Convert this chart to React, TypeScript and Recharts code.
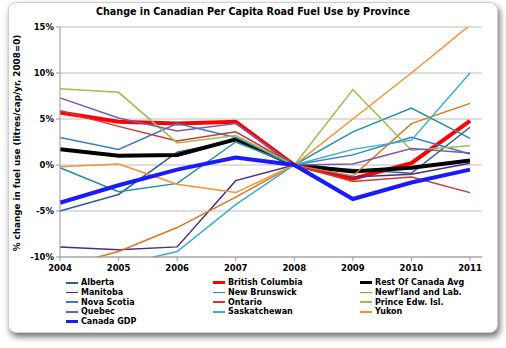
import { LineChart, Line, XAxis, YAxis, CartesianGrid } from 'recharts';

const years = ['2004', '2005', '2006', '2007', '2008', '2009', '2010', '2011'];
const yTicks = [-10, -5, 0, 5, 10, 15];

const alberta = [-5.0, -3.2, 1.4, 2.7, 0, -0.5, -0.9, 4.1];
const britishColumbia = [5.7, 4.7, 4.5, 4.7, 0, -1.5, 0.2, 4.8];
const restOfCanada = [1.7, 1.0, 1.1, 2.8, 0, -0.7, -0.3, 0.5];
const manitoba = [-8.9, -9.2, -8.9, -1.7, 0, -1.3, -1.0, 0.2];
const newBrunswick = [-0.3, -2.9, -2.0, 2.5, 0, 3.6, 6.2, 2.9];
const newfoundland = [-11.1, -9.4, -6.8, -3.5, 0, -1.2, 4.5, 6.7];
const novaScotia = [3.0, 1.7, 4.5, 3.0, 0, 1.1, 3.0, 1.2];
const ontario = [5.9, 4.2, 2.6, 3.6, 0, -1.8, -1.3, -3.0];
const princeEdward = [8.3, 7.9, 2.4, 3.2, 0, 8.2, 1.6, 2.1];
const quebec = [7.3, 5.1, 3.7, 4.5, 0, 0.1, 1.8, 1.3];
const saskatchewan = [-12.0, -10.9, -9.4, -4.3, 0, 1.7, 2.7, 10.0];
const yukon = [-0.2, 0.1, -2.1, -3.0, 0, 5.0, 10.0, 15.2];
const canadaGdp = [-4.1, -2.2, -0.5, 0.8, 0, -3.7, -1.9, -0.5];

const series = [
  { name: 'Alberta', values: alberta, color: '#2f5f98', width: 1.5 },
  { name: 'British Columbia', values: britishColumbia, color: '#ff0000', width: 4 },
  { name: 'Rest Of Canada Avg', values: restOfCanada, color: '#000000', width: 4 },
  { name: 'Manitoba', values: manitoba, color: '#4a2f80', width: 1.5 },
  { name: 'New Brunswick', values: newBrunswick, color: '#21919b', width: 1.5 },
  { name: "Newf'land and Lab.", values: newfoundland, color: '#d9781f', width: 1.5 },
  { name: 'Nova Scotia', values: novaScotia, color: '#3a7ccc', width: 1.5 },
  { name: 'Ontario', values: ontario, color: '#d23636', width: 1.5 },
  { name: 'Prince Edw. Isl.', values: princeEdward, color: '#97c04f', width: 1.5 },
  { name: 'Quebec', values: quebec, color: '#7a58ad', width: 1.5 },
  { name: 'Saskatchewan', values: saskatchewan, color: '#36b1cc', width: 1.5 },
  { name: 'Yukon', values: yukon, color: '#f7922e', width: 1.5 },
  { name: 'Canada GDP', values: canadaGdp, color: '#1a1aff', width: 4 },
];

const data = years.map((year, i) => {
  const row: Record<string, string | number> = { year };
  series.forEach((s) => {
    row[s.name] = s.values[i];
  });
  return row;
});

const font = "'DejaVu Sans', Verdana, sans-serif";
const tickStyle = { fill: '#000', fontSize: 8.5, fontWeight: 'bold' as const, fontFamily: font };

export default function App() {
  return (
    <div
      style={{
        position: 'absolute',
        left: 0,
        top: 0,
        width: 506,
        height: 348,
        background: '#fff',
        fontFamily: font,
        overflow: 'hidden',
      }}
    >
      {/* card with drop shadow */}
      <div
        style={{
          position: 'absolute',
          left: 8,
          top: 2,
          width: 488,
          height: 329,
          background: '#fff',
          border: '1px solid #cfcfcf',
          borderRadius: 8,
          boxShadow: '2px 4px 6px rgba(0,0,0,0.55)',
        }}
      />
      <div
        style={{
          position: 'absolute',
          left: 0,
          top: 6,
          width: 506,
          textAlign: 'center',
          fontSize: 9.6,
          fontWeight: 'bold',
        }}
      >
        Change in Canadian Per Capita Road Fuel Use by Province
      </div>
      <div
        style={{
          position: 'absolute',
          left: 17,
          top: 143,
          transform: 'translate(-50%, -50%) rotate(-90deg)',
          whiteSpace: 'nowrap',
          fontSize: 8.8,
          fontWeight: 'bold',
        }}
      >
        % change in fuel use (litres/cap/yr, 2008=0)
      </div>
      <div style={{ position: 'absolute', left: 0, top: 0 }}>
        <LineChart width={506} height={280} data={data} margin={{ top: 27, right: 24, left: 0, bottom: 0 }}>
          <CartesianGrid vertical={false} stroke="#bdbdbd" strokeWidth={1} />
          <XAxis
            dataKey="year"
            height={23}
            padding={{ left: 0, right: 12 }}
            tick={tickStyle}
            tickLine={{ stroke: '#999' }}
            tickSize={4}
            tickMargin={4}
            axisLine={{ stroke: '#999' }}
            interval={0}
          />
          <YAxis
            width={60}
            domain={[-10, 15]}
            ticks={yTicks}
            allowDataOverflow
            tickFormatter={(v: number) => `${v}%`}
            tick={tickStyle}
            tickLine={{ stroke: '#999' }}
            tickSize={4}
            axisLine={{ stroke: '#999' }}
          />
          {series.map((s) => (
            <Line
              key={s.name}
              type="linear"
              dataKey={s.name}
              stroke={s.color}
              strokeWidth={s.width}
              dot={false}
              isAnimationActive={false}
            />
          ))}
        </LineChart>
      </div>
      <div
        style={{
          position: 'absolute',
          left: 66,
          top: 278,
          display: 'grid',
          gridTemplateColumns: '147px 147px 147px',
          fontSize: 8,
          fontWeight: 'bold',
        }}
      >
        {series.map((s) => (
          <div key={s.name} style={{ display: 'flex', alignItems: 'center', height: 9.7, whiteSpace: 'nowrap' }}>
            <span
              style={{
                display: 'inline-block',
                width: 12,
                height: s.width > 2 ? 3 : 1.5,
                background: s.color,
                marginRight: 3,
              }}
            />
            {s.name}
          </div>
        ))}
      </div>
    </div>
  );
}
